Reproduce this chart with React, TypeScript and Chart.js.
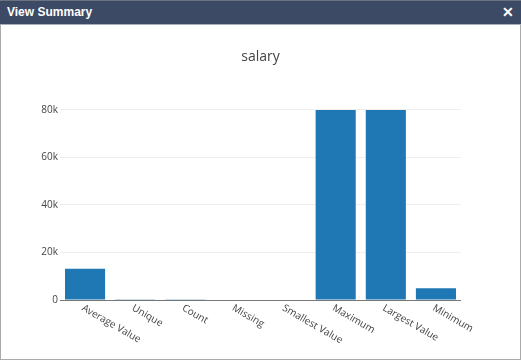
import React, { useEffect, useRef } from "react";
import { Chart, registerables } from "chart.js";

Chart.register(...registerables);

const categories = ["Average Value", "Unique", "Count", "Missing", "Smallest Value", "Maximum", "Largest Value", "Minimum"];
const salaryValues = [13200, 300, 350, 0, 0, 80000, 80000, 4900];
const yTickValues = [0, 20000, 40000, 60000, 80000];
const yTickLabels = ["0", "20k", "40k", "60k", "80k"];
const chartTitle = "salary";
const dialogTitle = "View Summary";

const FONT = "'Open Sans', 'DejaVu Sans', sans-serif";

const labelPlugin = {
  id: "customLabels",
  afterDraw(chart: any) {
    const ctx = chart.ctx;
    const xs = chart.scales.x;
    const ys = chart.scales.y;
    const y0 = ys.getPixelForValue(0);
    ctx.save();
    ctx.fillStyle = "#444";
    ctx.font = "14px " + FONT;
    ctx.textAlign = "center";
    ctx.textBaseline = "middle";
    ctx.fillText(chartTitle, chart.width / 2, 32);
    ctx.font = "10px " + FONT;
    ctx.textAlign = "left";
    ctx.textBaseline = "top";
    categories.forEach((c, i) => {
      const x = xs.getPixelForValue(i);
      ctx.save();
      ctx.translate(x, y0 + 3);
      ctx.rotate((30 * Math.PI) / 180);
      ctx.fillText(c, 0, 0);
      ctx.restore();
    });
    ctx.restore();
  },
};

function SummaryChart() {
  const ref = useRef<HTMLCanvasElement>(null);
  useEffect(() => {
    if (!ref.current) return;
    const chart = new Chart(ref.current, {
      type: "bar",
      data: {
        labels: categories,
        datasets: [
          {
            data: salaryValues,
            backgroundColor: "#1f77b4",
            borderWidth: 0,
            barPercentage: 0.8,
            categoryPercentage: 1.0,
          },
        ],
      },
      options: {
        responsive: false,
        animation: false,
        devicePixelRatio: 1,
        layout: { padding: { left: 0, right: 60, top: 75, bottom: 60 } },
        plugins: {
          legend: { display: false },
          tooltip: { enabled: false },
          title: { display: false },
        },
        scales: {
          x: {
            ticks: { display: false },
            grid: { display: false, drawTicks: false },
            border: { display: false },
          },
          y: {
            min: 0,
            max: 84210,
            afterBuildTicks(scale: any) {
              scale.ticks = yTickValues.map((v) => ({ value: v }));
            },
            afterFit(scale: any) {
              scale.width = 60;
            },
            ticks: {
              color: "#444",
              font: { family: FONT, size: 10 },
              padding: 2,
              callback(value: any) {
                const i = yTickValues.indexOf(Number(value));
                return i >= 0 ? yTickLabels[i] : "";
              },
            },
            grid: {
              drawTicks: false,
              color: (c: any) => (c.tick && c.tick.value === 0 ? "#777" : "#eeeeee"),
              lineWidth: 1,
            },
            border: { display: false },
          },
        },
      },
      plugins: [labelPlugin],
    } as any);
    return () => chart.destroy();
  }, []);
  return <canvas ref={ref} width={521} height={335} style={{ display: "block" }} />;
}

export default function App() {
  return (
    <div style={{ position: "fixed", left: 0, top: 0, width: 521, height: 360, background: "#fff", overflow: "hidden" }}>
      <div
        style={{
          position: "absolute",
          left: 0,
          top: 0,
          width: 521,
          height: 360,
          boxSizing: "border-box",
          border: "1px solid #aaa",
        }}
      />
      <div
        style={{
          position: "absolute",
          left: 0,
          top: 0,
          width: 521,
          height: 25,
          boxSizing: "border-box",
          background: "#3d4a66",
          borderTop: "1px solid #6b7280",
          borderBottom: "1px solid #a9afbb",
          color: "#fff",
          fontFamily: "'Liberation Sans', Arial, sans-serif",
          fontWeight: "bold",
          fontSize: 12,
        }}
      >
        <span style={{ position: "absolute", left: 7, top: 4, lineHeight: "15px" }}>{dialogTitle}</span>
        <span style={{ position: "absolute", right: 7, top: 3, fontSize: 14, lineHeight: "16px" }}>✕</span>
      </div>
      <div style={{ position: "absolute", left: 0, top: 25 }}>
        <SummaryChart />
      </div>
    </div>
  );
}
